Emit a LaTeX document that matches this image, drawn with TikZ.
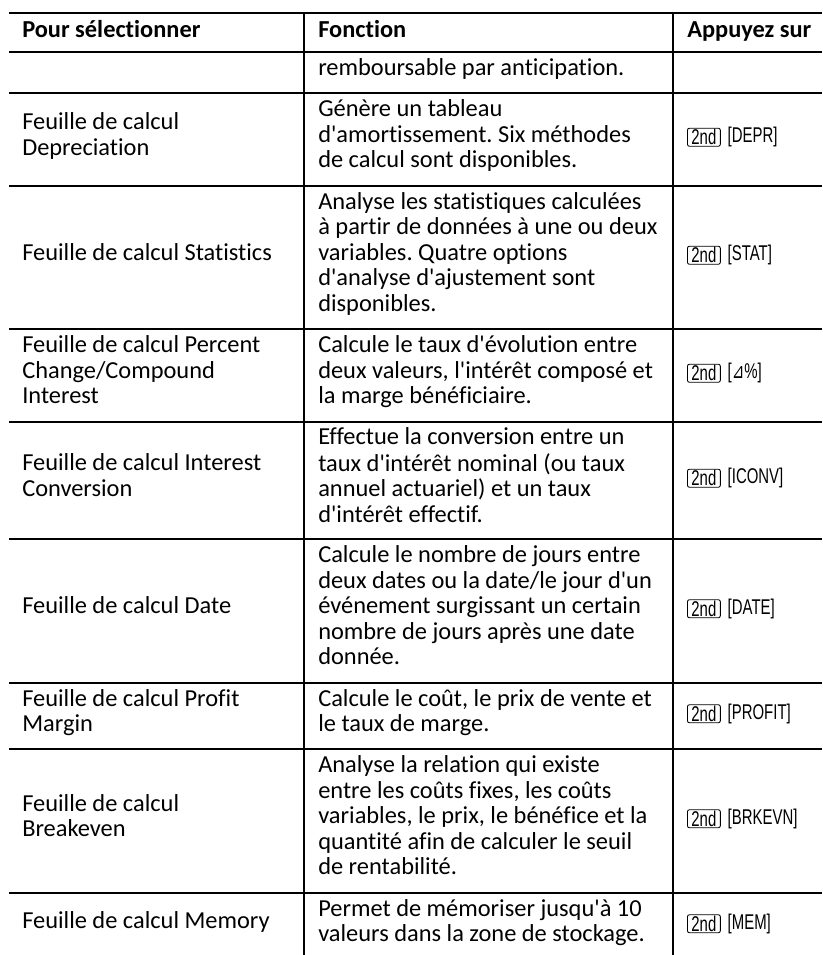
\documentclass[tikz,border=0pt]{standalone}
\usepackage{fontspec}
\newfontfamily\cellfam[Ligatures=NoCommon]{Carlito}
\newfontfamily\keyfont[FakeStretch=0.7]{Liberation Sans}
\newfontfamily\keysymfont[FakeStretch=0.7]{DejaVu Sans}
\usetikzlibrary{positioning}
\newcommand{\cellfont}{\cellfam\frenchspacing\fontsize{18.3}{19.1}\selectfont}
\newcommand{\keysize}{\fontsize{16}{17}\selectfont}

\begin{document}
\begin{tikzpicture}[x=0.75pt,y=0.75pt,yscale=-1,xscale=1,
  cell/.style={anchor=west,inner sep=0pt,align=left,font=\cellfont},
  head/.style={anchor=west,inner sep=0pt,font=\cellfont\bfseries},
  tabrule/.style={line width=1.5pt},
  keybox/.style={draw,rounded corners=1.5pt,line width=0.65pt,inner xsep=3pt,inner ysep=0.9pt,anchor=west,font=\keyfont\keysize},
  keylbl/.style={inner sep=0pt,font=\keyfont\keysize}]
\useasboundingbox (0,0) rectangle (822,955); %set diagram size 822 x 955

%Straight Lines [top]
\draw [line width=1.9pt] (9,13) -- (822,13) ;
%Straight Lines [head]
\draw [line width=1.9pt] (9,52) -- (822,52) ;
%Straight Lines
\draw [tabrule] (9,93) -- (822,93) ;
%Straight Lines
\draw [tabrule] (9,186) -- (822,186) ;
%Straight Lines
\draw [tabrule] (9,329) -- (822,329) ;
%Straight Lines
\draw [tabrule] (9,422) -- (822,422) ;
%Straight Lines
\draw [tabrule] (9,539) -- (822,539) ;
%Straight Lines
\draw [tabrule] (9,683) -- (822,683) ;
%Straight Lines
\draw [tabrule] (9,749) -- (822,749) ;
%Straight Lines
\draw [tabrule] (9,893) -- (822,893) ;
%Straight Lines [columns]
\draw [tabrule] (304,13) -- (304,955) ;
%Straight Lines
\draw [tabrule] (673,13) -- (673,955) ;

% Text Node [header]
\draw (22,32) node (hsel) [head] {\strut Pour sélectionner\strut};
% Text Node
\draw (318,32) node (hfon) [head] {\strut Fonction\strut};
% Text Node
\draw (687,32) node (happ) [head] {\strut Appuyez sur\strut};

% Text Node
\draw (318,70.25) node (rembfon) [cell] {\strut remboursable par anticipation.\strut};

% Text Node [Depreciation]
\draw (22,137.25) node (depsel) [cell] {\strut Feuille de calcul\\Depreciation\strut};
% Text Node
\draw (318,137.25) node (depfon) [cell] {\strut Génère un tableau\\d'amortissement. Six méthodes\\de calcul sont disponibles.\strut};
% Text Node
\draw (687,137.25) node (depkey) [keybox] {2nd};
\node (deplbl) [keylbl, right=5pt of depkey] {[DEPR]};

% Text Node [Statistics]
\draw (22,255.25) node (statsel) [cell] {\strut Feuille de calcul Statistics\strut};
% Text Node
\draw (318,255.25) node (statfon) [cell] {\strut Analyse les statistiques calculées\\à partir de données à une ou deux\\variables. Quatre options\\d'analyse d'ajustement sont\\disponibles.\strut};
% Text Node
\draw (687,255.25) node (statkey) [keybox] {2nd};
\node (statlbl) [keylbl, right=5pt of statkey] {[STAT]};

% Text Node [Percent Change]
\draw (22,373.25) node (pctsel) [cell] {\strut Feuille de calcul Percent\\Change/Compound\\Interest\strut};
% Text Node
\draw (318,373.25) node (pctfon) [cell] {\strut Calcule le taux d'évolution entre\\deux valeurs, l'intérêt composé et\\la marge bénéficiaire.\strut};
% Text Node
\draw (687,373.25) node (pctkey) [keybox] {2nd};
\node (pctlbl) [keylbl, right=5pt of pctkey] {[{\keysymfont ⊿}\%]};

% Text Node [Interest Conversion]
\draw (22,478.25) node (iconvsel) [cell] {\strut Feuille de calcul Interest\\Conversion\strut};
% Text Node
\draw (318,478.25) node (iconvfon) [cell] {\strut Effectue la conversion entre un\\taux d'intérêt nominal (ou taux\\annuel actuariel) et un taux\\d'intérêt effectif.\strut};
% Text Node
\draw (687,478.25) node (iconvkey) [keybox] {2nd};
\node (iconvlbl) [keylbl, right=5pt of iconvkey] {[ICONV]};

% Text Node [Date]
\draw (22,608.75) node (datesel) [cell] {\strut Feuille de calcul Date\strut};
% Text Node
\draw (318,608.75) node (datefon) [cell] {\strut Calcule le nombre de jours entre\\deux dates ou la date/le jour d'un\\événement surgissant un certain\\nombre de jours après une date\\donnée.\strut};
% Text Node
\draw (687,608.75) node (datekey) [keybox] {2nd};
\node (datelbl) [keylbl, right=5pt of datekey] {[DATE]};

% Text Node [Profit Margin]
\draw (22,713.75) node (profsel) [cell] {\strut Feuille de calcul Profit\\Margin\strut};
% Text Node
\draw (318,713.75) node (proffon) [cell] {\strut Calcule le coût, le prix de vente et\\le taux de marge.\strut};
% Text Node
\draw (687,713.75) node (profkey) [keybox] {2nd};
\node (proflbl) [keylbl, right=5pt of profkey] {[PROFIT]};

% Text Node [Breakeven]
\draw (22,818.75) node (brksel) [cell] {\strut Feuille de calcul\\Breakeven\strut};
% Text Node
\draw (318,818.75) node (brkfon) [cell] {\strut Analyse la relation qui existe\\entre les coûts fixes, les coûts\\variables, le prix, le bénéfice et la\\quantité afin de calculer le seuil\\de rentabilité.\strut};
% Text Node
\draw (687,818.75) node (brkkey) [keybox] {2nd};
\node (brklbl) [keylbl, right=5pt of brkkey] {[BRKEVN]};

% Text Node [Memory]
\draw (22,923.75) node (memsel) [cell] {\strut Feuille de calcul Memory\strut};
% Text Node
\draw (318,923.75) node (memfon) [cell] {\strut Permet de mémoriser jusqu'à 10\\valeurs dans la zone de stockage.\strut};
% Text Node
\draw (687,923.75) node (memkey) [keybox] {2nd};
\node (memlbl) [keylbl, right=5pt of memkey] {[MEM]};

\end{tikzpicture}
\end{document}
